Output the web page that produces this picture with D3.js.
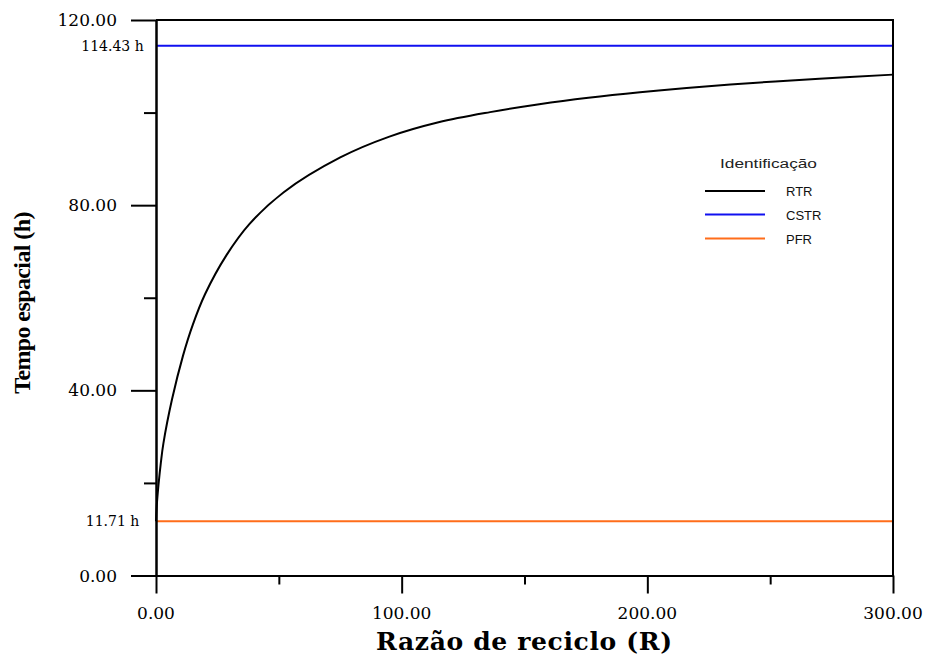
<!DOCTYPE html>
<html>
<head>
<meta charset="utf-8">
<script src="https://cdn.jsdelivr.net/npm/d3@7"></script>
<style>
html,body{margin:0;padding:0;background:#fff;}
svg{display:block;}
</style>
</head>
<body>
<svg id="chart" width="925" height="657"></svg>
<script>
// ---- data ----
const xTicksMajor = [0, 100, 200, 300];
const xTicksMinor = [50, 150, 250];
const yTicksMajor = [0, 40, 80, 120];
const yTicksMinor = [20, 60, 100];
const rtrR   = [0, 0.3, 1, 2, 3, 6.5, 11, 15, 20, 28.7, 38, 52, 75, 95, 115, 136, 156, 176, 197, 216, 243, 270, 300];
const rtrTau = [11.71, 15, 19.5, 24.5, 28.5, 38, 47.5, 54.2, 60.8, 69.2, 75.9, 82.8, 90.3, 94.8, 97.9, 100.1, 101.8, 103.2, 104.4, 105.3, 106.4, 107.3, 108.2];
const cstrTau = 114.43;
const pfrTau = 11.71;
const seriesNames = ["RTR", "CSTR", "PFR"];
const seriesColors = ["#000000", "#1010f0", "#ff6d1a"];
const refLabels = ["114.43 h", "11.71 h"];

// ---- scales ----
const svg = d3.select("#chart");
const x = d3.scaleLinear().domain([0, 300]).range([156, 893]);
const y = d3.scaleLinear().domain([0, 120]).range([575.5, 20]);

const serif = "'DejaVu Serif', serif";

// ---- curves ----
const line = d3.line().x(d => x(d[0])).y(d => y(d[1])).curve(d3.curveCatmullRom.alpha(0.5));
svg.append("path")
  .attr("d", line(rtrR.map((r, i) => [r, rtrTau[i]])))
  .attr("fill", "none").attr("stroke", seriesColors[0]).attr("stroke-width", 2);

svg.append("line")
  .attr("x1", x(0)).attr("x2", x(300)).attr("y1", y(cstrTau)).attr("y2", y(cstrTau))
  .attr("stroke", seriesColors[1]).attr("stroke-width", 2);
svg.append("line")
  .attr("x1", x(0)).attr("x2", x(300)).attr("y1", y(pfrTau)).attr("y2", y(pfrTau))
  .attr("stroke", seriesColors[2]).attr("stroke-width", 2);

// ---- axes ----
function styleAxis(g) {
  g.selectAll("path").attr("stroke", "#000").attr("stroke-width", 2);
  g.selectAll("line").attr("stroke", "#000").attr("stroke-width", 2);
  g.selectAll("text").remove();
}
svg.append("g").attr("transform", `translate(${x(0)},0)`)
  .call(d3.axisLeft(y).tickValues(yTicksMajor).tickSize(25).tickSizeOuter(0))
  .call(styleAxis);
svg.append("g").attr("transform", `translate(${x(0)},0)`)
  .call(d3.axisLeft(y).tickValues(yTicksMinor).tickSize(12).tickSizeOuter(0))
  .call(styleAxis);
svg.append("g").attr("transform", `translate(0,${y(0)})`)
  .call(d3.axisBottom(x).tickValues(xTicksMajor).tickSize(18).tickSizeOuter(0))
  .call(styleAxis);
svg.append("g").attr("transform", `translate(0,${y(0)})`)
  .call(d3.axisBottom(x).tickValues(xTicksMinor).tickSize(9).tickSizeOuter(0))
  .call(styleAxis);
// top and right frame
svg.append("line").attr("x1", x(0)).attr("x2", x(300)).attr("y1", y(120)).attr("y2", y(120))
  .attr("stroke", "#000").attr("stroke-width", 2);
svg.append("line").attr("x1", x(300)).attr("x2", x(300)).attr("y1", y(120) - 1).attr("y2", y(0) + 1)
  .attr("stroke", "#000").attr("stroke-width", 2);

// ---- tick labels ----
svg.selectAll(".ylab").data(yTicksMajor).enter().append("text")
  .attr("x", 117).attr("y", d => y(d)).attr("dy", "0.36em")
  .attr("text-anchor", "end").attr("font-family", serif).attr("font-size", 17)
  .text(d => d3.format(".2f")(d));
svg.selectAll(".xlab").data(xTicksMajor).enter().append("text")
  .attr("x", d => x(d)).attr("y", y(0) + 43)
  .attr("text-anchor", "middle").attr("font-family", serif).attr("font-size", 17)
  .text(d => d3.format(".2f")(d));

// reference value labels
[cstrTau, pfrTau].forEach((v, i) => {
  svg.append("text").attr("x", 112.5).attr("y", y(v)).attr("dy", "0.36em")
    .attr("text-anchor", "middle").attr("font-family", serif).attr("font-size", 14)
    .text(refLabels[i]);
});

// ---- axis titles ----
svg.append("text")
  .attr("x", 524).attr("y", 650)
  .attr("text-anchor", "middle").attr("font-family", serif).attr("font-weight", "bold")
  .attr("font-size", 25)
  .attr("textLength", 296).attr("lengthAdjust", "spacing")
  .text("Razão de reciclo (R)");
svg.append("text")
  .attr("transform", "translate(30,303) rotate(-90)")
  .attr("text-anchor", "middle").attr("font-family", "'Liberation Serif', serif").attr("font-weight", "bold")
  .attr("font-size", 24).attr("letter-spacing", -0.6)
  .text("Tempo espacial (h)");

// ---- legend ----
const sans = "'Liberation Sans', Arial, sans-serif";
svg.append("text").attr("x", 720).attr("y", 168)
  .attr("font-family", sans).attr("font-size", 12).attr("fill", "#222")
  .attr("textLength", 97).attr("lengthAdjust", "spacingAndGlyphs")
  .text("Identificação");
const legY = [191, 214.5, 238.5];
seriesNames.forEach((n, i) => {
  svg.append("line").attr("x1", 705).attr("x2", 765).attr("y1", legY[i]).attr("y2", legY[i])
    .attr("stroke", seriesColors[i]).attr("stroke-width", 2);
  svg.append("text").attr("x", 786).attr("y", legY[i] + 5)
    .attr("font-family", sans).attr("font-size", 13).attr("fill", "#111")
    .text(n);
});
</script>
</body>
</html>
